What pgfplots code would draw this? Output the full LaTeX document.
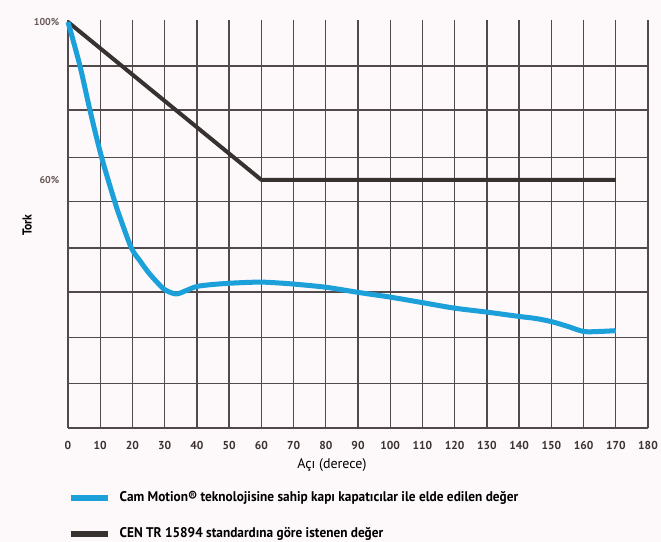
\documentclass[border=0pt]{standalone}
\usepackage{pgfplots}
\pgfplotsset{compat=1.18}
\usepackage{fontspec}
\setmainfont{PT Sans}
\newfontfamily\cond{PT Sans}[FakeStretch=0.95]
\newfontfamily\condb{PT Sans}[FakeStretch=0.9]
\definecolor{bg}{RGB}{253,248,250}
\definecolor{gridc}{RGB}{82,74,74}
\definecolor{tickc}{RGB}{60,50,50}
\definecolor{ytickc}{RGB}{105,88,88}
\definecolor{camblue}{RGB}{27,160,218}
\definecolor{stdblack}{RGB}{55,50,48}
\pagecolor{bg}
\begin{document}
\begin{tikzpicture}
\begin{axis}[
  scale only axis,
  width=580bp, height=408bp,
  xmin=0, xmax=180,
  ymin=-2.86, ymax=100.5,
  clip=false,
  axis x line*=bottom, axis y line*=left,
  axis line style={gridc, line width=1.3bp},
  /pgf/number format/assume math mode=true,
  xtick={0,10,...,180},
  xticklabel style={font=\bfseries\fontsize{11.5bp}{13bp}\selectfont, anchor=center, yshift=-17bp, text=tickc},
  ytick={8.35,20.08,31.57,42.71,54.51,65.75,77.72,88.86},
  yticklabels={},
  extra y ticks={60,100},
  extra y tick labels={60\%,100\%},
  extra y tick style={grid=none, major tick length=0pt,
     yticklabel style={font=\bfseries\fontsize{10bp}{12bp}\selectfont, inner sep=0pt, anchor=east, xshift=-8.5bp, text=ytickc}},
  major tick length=0pt,
  grid=major,
  major grid style={gridc, line width=1.3bp},
  xlabel={Açı (derece)},
  xlabel style={font=\fontsize{14bp}{16bp}\selectfont, at={(axis description cs:0.455,-0.0907)}, anchor=center, text=black},
  ylabel={Tork},
  ylabel style={font=\condb\bfseries\fontsize{13bp}{15bp}\selectfont, at={(axis description cs:-0.0705,0.497)}, anchor=center},
  legend style={at={(axis description cs:0,-0.155)}, anchor=north west, draw=none, fill=none,
     inner sep=0pt, row sep=23bp, column sep=8bp,
     font=\cond\bfseries\fontsize{14bp}{16bp}\selectfont,
     nodes={inner sep=0pt, text height=10bp, text depth=3bp}},
  legend cell align=left,
  legend image code/.code={\draw[#1, line width=6.5bp, line cap=butt] (0bp,0bp) -- (37bp,0bp);},
  reverse legend,
]
\addplot[stdblack, line width=4bp, line join=round] coordinates {
 (0,100) (60,60) (170,60)
};
\addlegendentry{CEN TR 15894 standardına göre istenen değer}
\addplot[camblue, line width=5bp, smooth, tension=0.5, line join=round] coordinates {
 (0,100) (3.7,88.9) (6.8,77.7) (10.4,65.8) (14.5,54.5) (16.4,49.9) (19.7,42.7)
 (22.5,39.3) (25,36.5) (27.5,34.2) (30,32.2) (33.5,31.1) (36.5,31.9) (40,33.0)
 (45,33.5) (50,33.8) (55,34.0) (60,34.1) (65,33.9) (70,33.6) (80,32.8)
 (90,31.5) (100,30.3) (110,28.9) (120,27.5) (130,26.5) (140,25.4) (145,24.9)
 (150,24.1) (155,22.9) (160,21.6) (165,21.6) (170,21.8)
};
\addlegendentry{Cam Motion® teknolojisine sahip kapı kapatıcılar ile elde edilen değer}
\end{axis}
\pgfresetboundingbox
\path[use as bounding box] ([xshift=-68bp,yshift=-114bp]current axis.south west) rectangle ([xshift=13bp,yshift=20bp]current axis.north east);
\end{tikzpicture}
\end{document}
